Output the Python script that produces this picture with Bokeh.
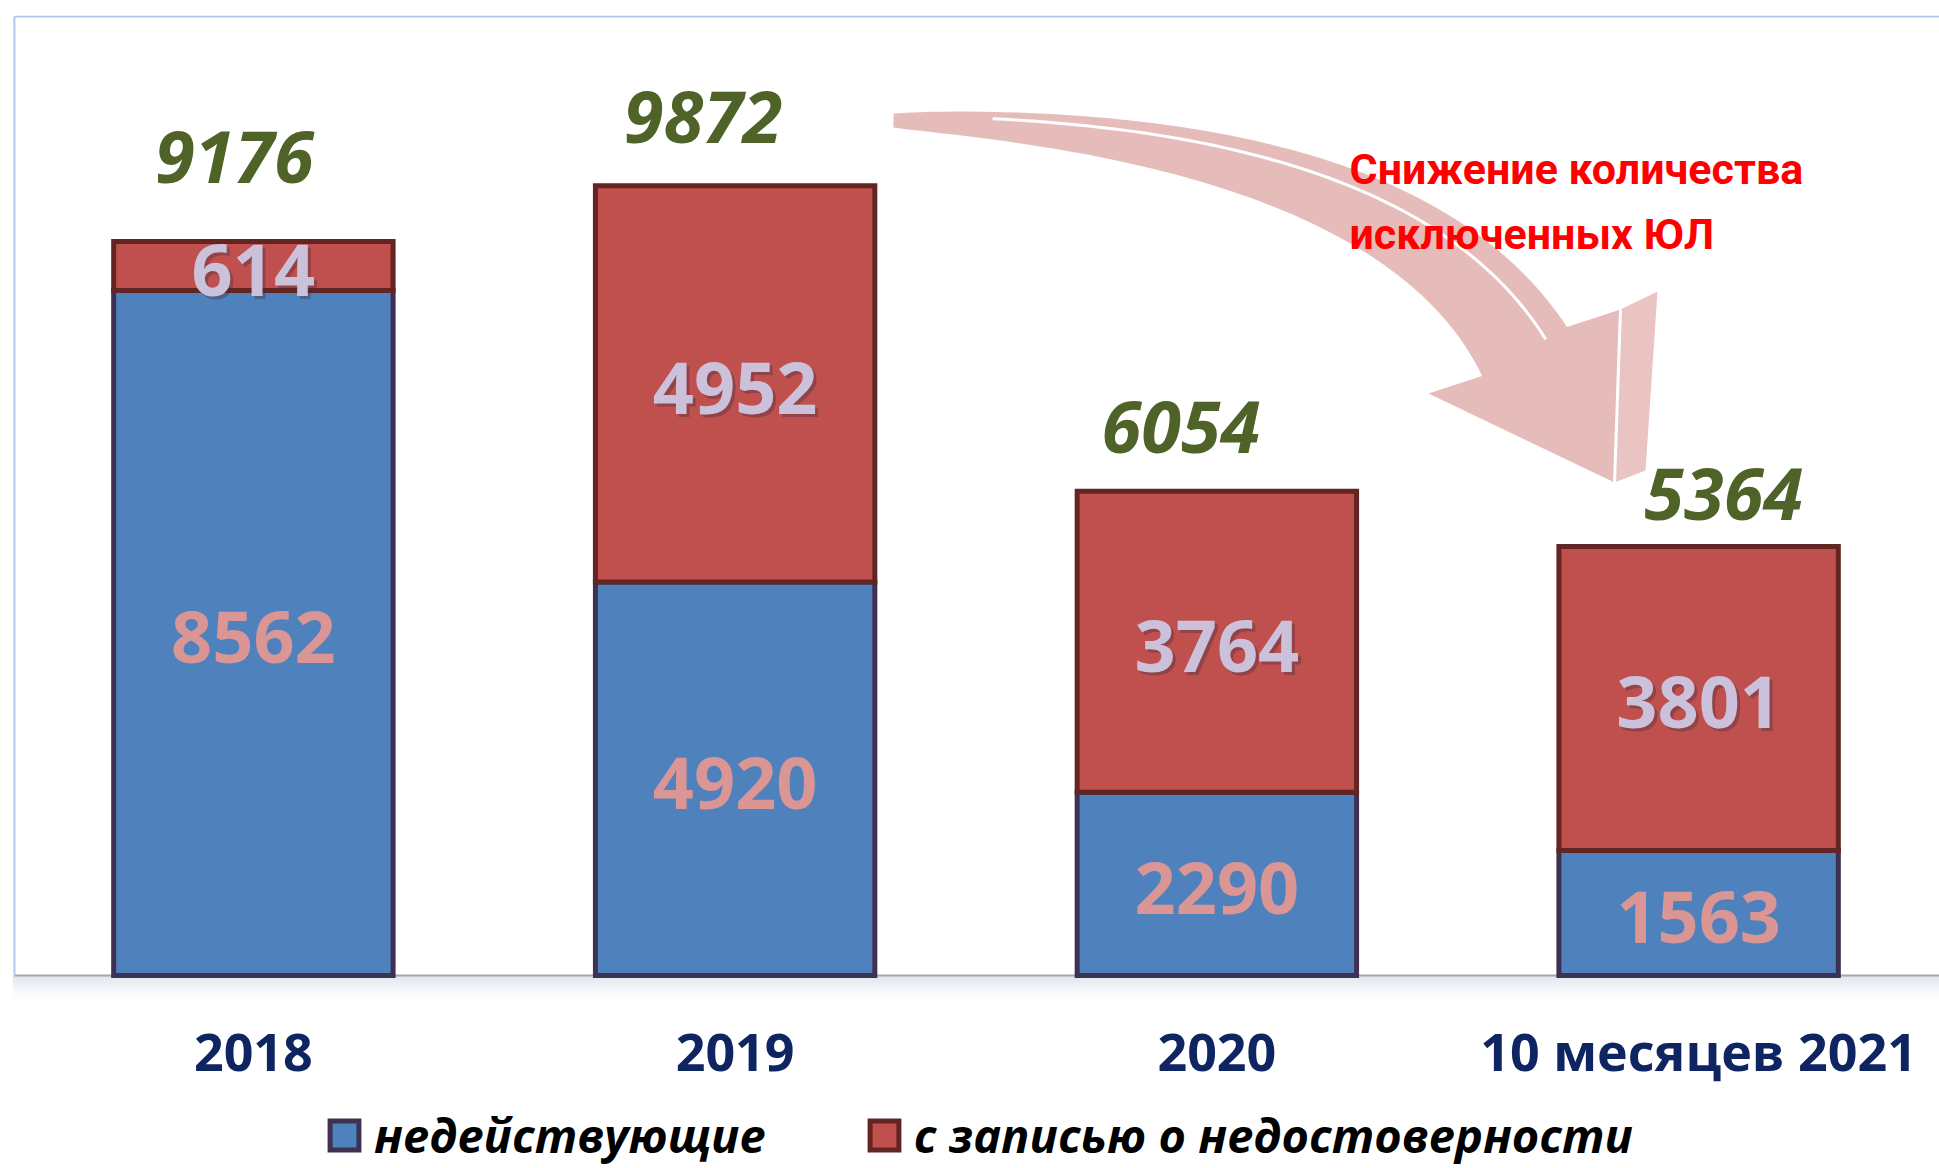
import numpy as np
from bokeh.plotting import figure
from bokeh.models import FactorRange, Range1d, Legend, LegendItem, Label
from bokeh.core.properties import value
from bokeh.embed import file_html
from bokeh.resources import INLINE

# ---------------- data ----------------
categories = ["2018", "2019", "2020", "10 месяцев 2021"]
series_names = ["недействующие", "с записью о недостоверности"]
inactive = [8562, 4920, 2290, 1563]        # недействующие
unreliable = [614, 4952, 3764, 3801]       # с записью о недостоверности
totals = [9176, 9872, 6054, 5364]
note_lines = ["Снижение количества", "исключенных ЮЛ"]

# ---------------- styles ----------------
BLUE, BLUE_EDGE = "#4F81BD", "#3F3151"
RED, RED_EDGE = "#C0504D", "#632523"
TOTAL_COLOR = "#4F6228"
# label nudges (screen px) for the totals, as placed in the original slide
total_dx = [-19, -32, -36, 25]
total_dy = [84, 69, 64, 52]

FRAME_W, FRAME_H = 1927, 1153
BORDER_L, BORDER_T = 12, 15
Y_MAX = 12000
PPU = 0.08                      # screen px per unit
Y_MIN = Y_MAX - FRAME_H / PPU   # room below the baseline for axis labels and legend

p = figure(frame_width=FRAME_W, frame_height=FRAME_H, x_range=FactorRange(*categories),
           y_range=Range1d(Y_MIN, Y_MAX), output_backend="svg",
           toolbar_location=None, min_border_left=BORDER_L, min_border_right=0,
           min_border_top=BORDER_T, min_border_bottom=0)
p.outline_line_color = None
p.xgrid.visible = False
p.ygrid.visible = False
p.yaxis.visible = False

# conversion helpers for decorations drawn in canvas pixels
cat_w = FRAME_W / len(categories)
base_px = BORDER_T + Y_MAX * PPU


def to_data(px, py):
    return (px - BORDER_L) / cat_w, (base_px - py) / PPU


# shadow under baseline
for k in range(10):
    p.quad(left=[0], right=[len(categories)], top=[-(k * 2.5) / PPU],
           bottom=[-((k + 1) * 2.5) / PPU], fill_color="#B9C8DE",
           fill_alpha=0.45 * (1 - k / 10) ** 1.5, line_color=None)

# frame borders
p.segment(x0=[0.004], y0=[0], x1=[len(categories)], y1=[0], line_color="#A6A6A6", line_width=2)
p.segment(x0=[0.004], y0=[0], x1=[0.004], y1=[Y_MAX - 12], line_color="#B0C6EC", line_width=2)
p.segment(x0=[0.004], y0=[Y_MAX - 12], x1=[len(categories)], y1=[Y_MAX - 12],
          line_color="#B0C6EC", line_width=2)

# ---------------- curved arrow (decoration) ----------------
P0 = np.array([893.0, 120.0])
P1 = np.array([1399.0, 135.0])
P2 = np.array([1524.0, 351.0])
t = np.linspace(0, 1, 80)
C = ((1 - t) ** 2)[:, None] * P0 + (2 * (1 - t) * t)[:, None] * P1 + (t ** 2)[:, None] * P2
D = (2 * (1 - t))[:, None] * (P1 - P0) + (2 * t)[:, None] * (P2 - P1)
D = D / np.linalg.norm(D, axis=1)[:, None]
N = np.stack([D[:, 1], -D[:, 0]], axis=1)
wdt = 14 + 84 * t ** 0.8
upper = C + N * (wdt / 2)[:, None]
lower = C - N * (wdt / 2)[:, None]
barb_l = P2 + np.array([-96, 42])
tip = P2 + np.array([90, 131])
barb_r = P2 + np.array([96, -42])
side = [barb_r, P2 + np.array([133, -60]), P2 + np.array([121, 119]), tip]
body = list(upper) + [barb_r, tip, barb_l] + list(lower[::-1])
bx, by = zip(*[to_data(*q) for q in body])
p.patch(list(bx), list(by), fill_color="#E5B8B7", fill_alpha=0.95, line_color=None)
sx, sy = zip(*[to_data(*q) for q in side])
p.patch(list(sx), list(sy), fill_color="#E9C1C0", fill_alpha=0.95, line_color=None)
streak = C + N * (wdt * 0.25)[:, None]
m = t > 0.1
stx, sty = zip(*[to_data(*q) for q in streak[m]])
p.line(list(stx), list(sty), line_color="white", line_width=3)
ex, ey = zip(*[to_data(*q) for q in [barb_r, tip]])
p.line(list(ex), list(ey), line_color="white", line_width=3)

# ---------------- bars ----------------
r_blue = p.vbar(x=categories, bottom=0, top=inactive, width=0.58,
                fill_color=BLUE, line_color=BLUE_EDGE, line_width=5, line_join="miter")
r_red = p.vbar(x=categories, bottom=inactive, top=totals, width=0.58,
               fill_color=RED, line_color=RED_EDGE, line_width=5, line_join="miter")

# ---------------- labels ----------------
mid_blue = [v / 2 for v in inactive]
mid_red = [a + b / 2 for a, b in zip(inactive, unreliable)]
lab_font = value("Open Sans")
p.text(x=categories, y=mid_blue, text=[str(v) for v in inactive], text_font=lab_font,
       text_font_size="72px", text_font_style="bold", text_color="#D99694",
       text_align="center", text_baseline="middle", y_offset=4)
p.text(x=categories, y=mid_red, text=[str(v) for v in unreliable], text_font=lab_font,
       text_font_size="72px", text_font_style="bold", text_color="#3B2B3B", text_alpha=0.35,
       text_align="center", text_baseline="middle", x_offset=3, y_offset=7)
p.text(x=categories, y=mid_red, text=[str(v) for v in unreliable], text_font=lab_font,
       text_font_size="72px", text_font_style="bold", text_color="#CCC1DA",
       text_align="center", text_baseline="middle", y_offset=4)
p.text(x=categories, y=totals, text=[str(v) for v in totals], text_font=lab_font,
       text_font_size="72px", text_font_style="bold italic", text_color=TOTAL_COLOR,
       text_align="center", text_baseline="middle",
       x_offset=total_dx, y_offset=[-d for d in total_dy])

# note text
for i, line in enumerate(note_lines):
    lx, ly = to_data(1349, 168 + 65 * i)
    p.add_layout(Label(x=lx, y=ly, text=line, text_font="Roboto",
                       text_font_size="43px", text_font_style="bold",
                       text_color="#FF0000", text_baseline="alphabetic"))

# ---------------- axis (placed just under the baseline shadow) ----------------
ax = p.xaxis[0]
ax.fixed_location = -25 / PPU
ax.axis_line_color = None
ax.major_tick_line_color = None
ax.minor_tick_line_color = None
ax.major_label_text_font = "Open Sans"
ax.major_label_text_font_size = "52px"
ax.major_label_text_font_style = "bold"
ax.major_label_text_color = "#0F2562"
ax.major_label_standoff = 8

# ---------------- legend ----------------
legend = Legend(items=[LegendItem(label=series_names[0], renderers=[r_blue]),
                       LegendItem(label=series_names[1], renderers=[r_red])],
                orientation="horizontal", location=(314, 1),
                label_text_font="Open Sans", label_text_font_size="47px",
                label_text_font_style="bold italic", label_text_color="#000000",
                glyph_width=36, glyph_height=36, spacing=100, label_standoff=12,
                border_line_color=None, background_fill_alpha=0, padding=0, margin=0)
p.add_layout(legend)

open("out.html", "w").write(file_html(p, INLINE))
